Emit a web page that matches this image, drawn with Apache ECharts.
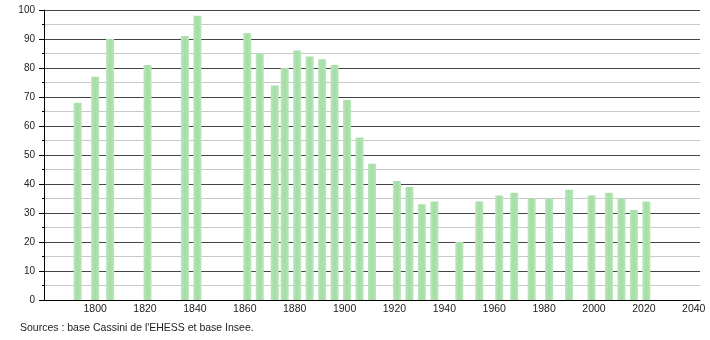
<!DOCTYPE html>
<html><head><meta charset="utf-8">
<script src="https://cdn.jsdelivr.net/npm/echarts@6/dist/echarts.min.js"></script>
<style>html,body{margin:0;padding:0;background:#fff}#c{width:710px;height:340px}</style>
</head><body><div id="c"></div>
<script>
var years = [1793,1800,1806,1821,1836,1841,1861,1866,1872,1876,1881,1886,1891,1896,1901,1906,1911,1921,1926,1931,1936,1946,1954,1962,1968,1975,1982,1990,1999,2006,2011,2016,2021];
var population = [68,77,90,81,91,98,92,85,74,80,86,84,83,81,69,56,47,41,39,33,34,20,34,36,37,35,35,38,36,37,35,31,34];
var xTickLabels = [1800,1820,1840,1860,1880,1900,1920,1940,1960,1980,2000,2020,2040];
var sourceText = "Sources : base Cassini de l'EHESS et base Insee.";

var font = 'Liberation Sans, Arial, sans-serif';
var chart = echarts.init(document.getElementById('c'), null, {renderer:'canvas'});
chart.setOption({
  animation:false,
  backgroundColor:'#fff',
  grid:{left:44,right:10,top:10,bottom:40,containLabel:false},
  xAxis:{
    type:'value', min:1779.5, max:2042.5,
    axisLine:{show:true,onZero:false,lineStyle:{color:'#000',width:1}},
    axisTick:{show:false},
    splitLine:{show:false},
    axisLabel:{customValues:xTickLabels,color:'#222',fontFamily:font,fontSize:10.5,margin:4,
      formatter:function(v){return String(v);}}
  },
  yAxis:{
    type:'value', min:0, max:100, interval:10,
    axisLine:{show:true,lineStyle:{color:'#000',width:1}},
    axisTick:{show:true,length:5,lineStyle:{color:'#000'}},
    minorTick:{show:true,splitNumber:2,length:2,lineStyle:{color:'#000'}},
    splitLine:{show:true,lineStyle:{color:'#444',width:1}},
    minorSplitLine:{show:true,lineStyle:{color:'#c8c8c8',width:1}},
    axisLabel:{color:'#222',fontFamily:font,fontSize:10,margin:9}
  },
  graphic:[{type:'text',left:20,top:323,style:{text:sourceText,fill:'#222',font:'10.5px '+font}}],
  series:[{
    type:'bar', barWidth:8,
    data: years.map(function(y,i){return [y,population[i]];}),
    itemStyle:{color:new echarts.graphic.LinearGradient(0,0,1,0,[
      {offset:0,color:'#b8e6b8'},{offset:0.5,color:'#a5dca5'},{offset:1,color:'#b8e6b8'}])}
  }]
});
</script></body></html>
